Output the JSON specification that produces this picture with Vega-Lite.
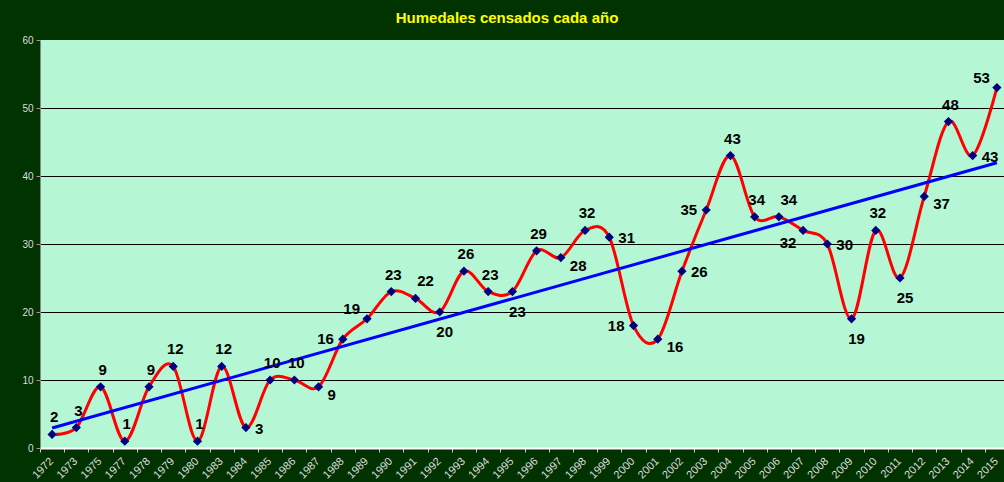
{
  "$schema": "https://vega.github.io/schema/vega-lite/v6.json",
  "autosize": {"type": "none"},
  "width": 964,
  "height": 408,
  "padding": {"left": 40, "top": 40, "right": 0, "bottom": 34},
  "background": "#003300",
  "title": {"text": "Humedales censados cada año", "color": "#FFFF00", "font": "Liberation Sans", "fontSize": 15, "fontWeight": "bold", "anchor": "middle", "offset": 9, "dx": -15},
  "config": {
    "view": {"fill": "#B5F7D4", "stroke": null},
    "font": "Liberation Sans"
  },
  "data": {"values": [
    {"year": 1972, "value": 2}, {"year": 1973, "value": 3}, {"year": 1975, "value": 9}, {"year": 1977, "value": 1},
    {"year": 1978, "value": 9}, {"year": 1979, "value": 12}, {"year": 1980, "value": 1}, {"year": 1983, "value": 12},
    {"year": 1984, "value": 3}, {"year": 1985, "value": 10}, {"year": 1986, "value": 10}, {"year": 1987, "value": 9},
    {"year": 1988, "value": 16}, {"year": 1989, "value": 19}, {"year": 1990, "value": 23}, {"year": 1991, "value": 22},
    {"year": 1992, "value": 20}, {"year": 1993, "value": 26}, {"year": 1994, "value": 23}, {"year": 1995, "value": 23},
    {"year": 1996, "value": 29}, {"year": 1997, "value": 28}, {"year": 1998, "value": 32}, {"year": 1999, "value": 31},
    {"year": 2000, "value": 18}, {"year": 2001, "value": 16}, {"year": 2002, "value": 26}, {"year": 2003, "value": 35},
    {"year": 2004, "value": 43}, {"year": 2005, "value": 34}, {"year": 2006, "value": 34}, {"year": 2007, "value": 32},
    {"year": 2008, "value": 30}, {"year": 2009, "value": 19}, {"year": 2010, "value": 32}, {"year": 2011, "value": 25},
    {"year": 2012, "value": 37}, {"year": 2013, "value": 48}, {"year": 2014, "value": 43}, {"year": 2015, "value": 53}
  ]},
  "encoding": {
    "x": {
      "field": "year", "type": "ordinal",
      "scale": {"type": "band", "paddingInner": 0, "paddingOuter": 0, "range": [0, 969]},
      "axis": {
        "title": null, "labelAngle": -45, "labelAlign": "right", "labelBaseline": "top",
        "tickBand": "extent", "domainColor": "#FFFFFF", "domainWidth": 2,
        "tickColor": "#CCCCCC", "tickSize": 4, "labelColor": "#DDDDDD",
        "labelFont": "Liberation Sans", "labelFontSize": 11, "labelPadding": 3, "labelOffset": -5
      }
    },
    "y": {
      "field": "value", "type": "quantitative",
      "scale": {"domain": [0, 60], "nice": false, "zero": true},
      "axis": {
        "title": null, "values": [0, 10, 20, 30, 40, 50, 60],
        "labelColor": "#DDDDDD", "labelFont": "Liberation Sans", "labelFontSize": 10,
        "tickColor": "#999999", "tickSize": 4, "domainColor": "#888888", "labelPadding": 3,
        "grid": true, "gridColor": "#000000", "gridWidth": 1,
        "gridOpacity": {"condition": {"test": "datum.value === 0 || datum.value === 60", "value": 0}, "value": 1}
      }
    }
  },
  "layer": [
    {"mark": {"type": "line", "interpolate": "cardinal", "color": "#FF0000", "strokeWidth": 3}},
    {"mark": {"type": "point", "shape": "diamond", "filled": true, "color": "#000080", "size": 85, "opacity": 1}},
    {
      "data": {"values": [{"year": 1972, "value": 2.95}, {"year": 2015, "value": 41.95}]},
      "mark": {"type": "line", "color": "#0000FF", "strokeWidth": 3}
    },
    {
      "transform": [{"filter": {"field": "year", "oneOf": [1972, 1973, 1975, 1977, 1978, 1979, 1980, 1983, 1985, 1986, 1990, 1993, 1994, 1996, 1998, 2004, 2005, 2010, 2013]}}],
      "mark": {"type": "text", "fontSize": 15, "fontWeight": "bold", "color": "#000000", "align": "center", "baseline": "middle", "dx": 2, "dy": -17},
      "encoding": {"text": {"field": "value"}}
    },
    {
      "transform": [{"filter": {"field": "year", "oneOf": [1991, 2006]}}],
      "mark": {"type": "text", "fontSize": 15, "fontWeight": "bold", "color": "#000000", "align": "center", "baseline": "middle", "dx": 10, "dy": -17},
      "encoding": {"text": {"field": "value"}}
    },
    {
      "transform": [{"filter": {"field": "year", "oneOf": [1992, 1995, 2009, 2011]}}],
      "mark": {"type": "text", "fontSize": 15, "fontWeight": "bold", "color": "#000000", "align": "center", "baseline": "middle", "dx": 5, "dy": 20},
      "encoding": {"text": {"field": "value"}}
    },
    {
      "transform": [{"filter": {"field": "year", "oneOf": [2007]}}],
      "mark": {"type": "text", "fontSize": 15, "fontWeight": "bold", "color": "#000000", "align": "center", "baseline": "middle", "dx": -15, "dy": 13},
      "encoding": {"text": {"field": "value"}}
    },
    {
      "transform": [{"filter": {"field": "year", "oneOf": [1987, 1997, 2001, 2012]}}],
      "mark": {"type": "text", "fontSize": 15, "fontWeight": "bold", "color": "#000000", "align": "left", "baseline": "middle", "dx": 9, "dy": 8},
      "encoding": {"text": {"field": "value"}}
    },
    {
      "transform": [{"filter": {"field": "year", "oneOf": [1984, 1999, 2002, 2008, 2014]}}],
      "mark": {"type": "text", "fontSize": 15, "fontWeight": "bold", "color": "#000000", "align": "left", "baseline": "middle", "dx": 9, "dy": 1},
      "encoding": {"text": {"field": "value"}}
    },
    {
      "transform": [{"filter": {"field": "year", "oneOf": [1988, 2000, 2003]}}],
      "mark": {"type": "text", "fontSize": 15, "fontWeight": "bold", "color": "#000000", "align": "right", "baseline": "middle", "dx": -9, "dy": 0},
      "encoding": {"text": {"field": "value"}}
    },
    {
      "transform": [{"filter": {"field": "year", "oneOf": [1989, 2015]}}],
      "mark": {"type": "text", "fontSize": 15, "fontWeight": "bold", "color": "#000000", "align": "right", "baseline": "middle", "dx": -7, "dy": -10},
      "encoding": {"text": {"field": "value"}}
    }
  ]
}
